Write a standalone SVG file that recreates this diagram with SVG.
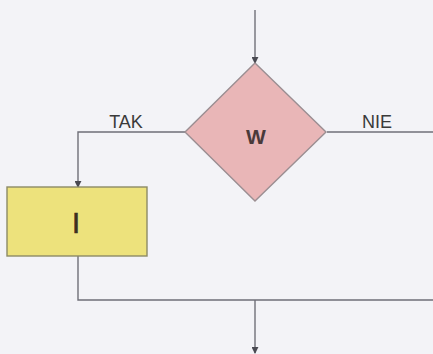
<svg xmlns="http://www.w3.org/2000/svg" width="433" height="354" viewBox="0 0 433 354">
<style>
.ln{fill:none;stroke:#6f6f78;stroke-width:1.4}
.lbl{font-family:"Liberation Sans",Arial,sans-serif;font-size:18px;fill:#3a3a3a}
.w{font-family:"Liberation Sans",Arial,sans-serif;font-size:21px;font-weight:bold;fill:#4a3a3a}
.big{font-family:"Liberation Sans",Arial,sans-serif;font-size:29px;fill:#3a3020;stroke:#3a3020;stroke-width:0.6}
</style>
<defs>
<marker id="ah" viewBox="0 0 8 8" refX="7" refY="4" markerWidth="5" markerHeight="5" orient="auto"><path d="M0,0 L8,4 L0,8 z" fill="#4a4a52"/></marker>
</defs>
<rect width="433" height="354" fill="#f3f3f7"/>
<g id="connectors">
<line class="ln" x1="255" y1="10" x2="255" y2="63" marker-end="url(#ah)"/>
<polyline class="ln" points="185,132 78,132 78,187" marker-end="url(#ah)"/>
<line class="ln" x1="327" y1="132" x2="433" y2="132"/>
<polyline class="ln" points="78,256 78,300 433,300"/>
<line class="ln" x1="255" y1="300" x2="255" y2="353" marker-end="url(#ah)"/>
<text class="lbl" x="126" y="128" text-anchor="middle">TAK</text>
<text class="lbl" x="377" y="128" text-anchor="middle">NIE</text>
</g>
<g id="decision">
<polygon points="255,63 326,132 255,201 185,132" fill="#e9b6b7" stroke="#9b8e92" stroke-width="1.4"/>
<text class="w" x="256" y="144" text-anchor="middle">W</text>
</g>
<g id="instruction">
<rect x="7" y="187" width="140" height="69" fill="#ede27c" stroke="#8c8a66" stroke-width="1.4"/>
<text class="big" x="76" y="233" text-anchor="middle">I</text>
</g>
</svg>
